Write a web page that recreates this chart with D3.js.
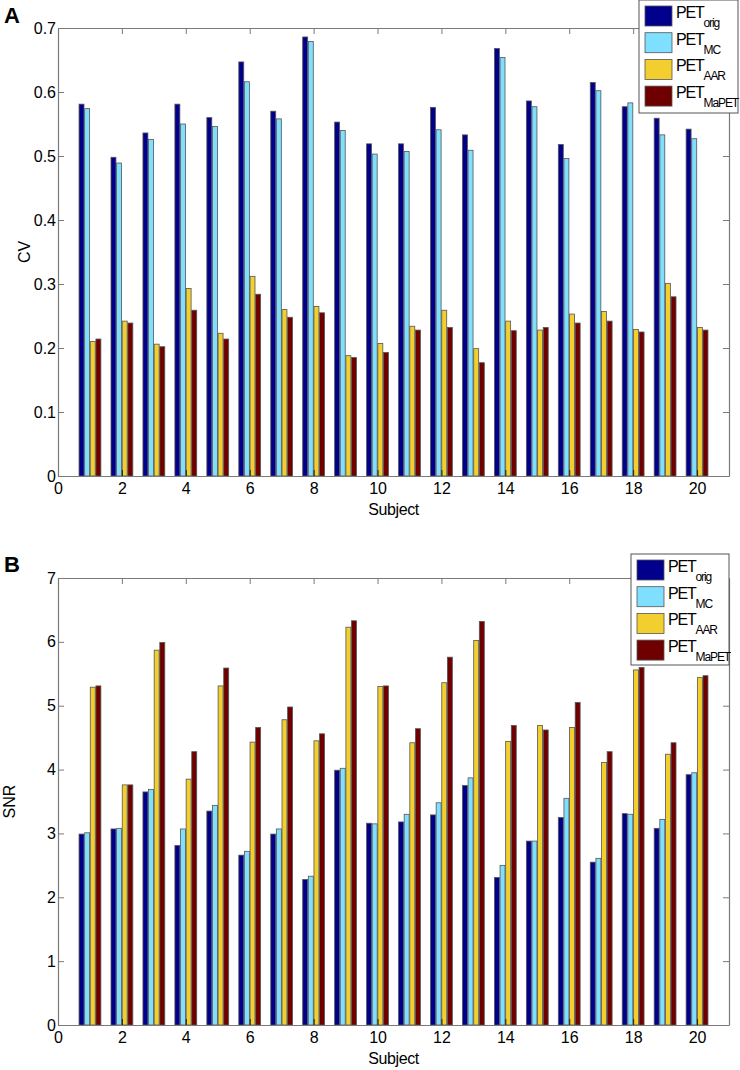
<!DOCTYPE html>
<html>
<head>
<meta charset="utf-8">
<script src="https://cdn.jsdelivr.net/npm/d3@7"></script>
<style>
  html, body { margin: 0; padding: 0; background: #fff; }
  svg { display: block; font-family: "Liberation Sans", Arial, sans-serif; }
</style>
</head>
<body>
<svg id="chart" width="740" height="1070"></svg>
<script>
// ---------------- DATA ----------------
const subjects = [1,2,3,4,5,6,7,8,9,10,11,12,13,14,15,16,17,18,19,20];
const seriesNames = ["orig", "MC", "AAR", "MaPET"];
const seriesColors = ["#00008c", "#7fdfff", "#f2cf2f", "#6e0000"];

const cvOrig  = [0.581,0.498,0.536,0.581,0.560,0.647,0.570,0.686,0.553,0.519,0.519,0.576,0.533,0.668,0.586,0.518,0.615,0.577,0.559,0.542];
const cvMC    = [0.574,0.489,0.526,0.550,0.546,0.616,0.558,0.679,0.540,0.503,0.507,0.541,0.509,0.654,0.577,0.496,0.602,0.583,0.533,0.527];
const cvAAR   = [0.210,0.242,0.206,0.293,0.223,0.312,0.260,0.265,0.188,0.207,0.234,0.259,0.199,0.242,0.228,0.253,0.257,0.229,0.301,0.232];
const cvMaPET = [0.214,0.239,0.202,0.259,0.214,0.284,0.248,0.255,0.185,0.193,0.228,0.232,0.177,0.227,0.232,0.239,0.242,0.225,0.280,0.228];

const snrOrig  = [2.99,3.07,3.65,2.81,3.35,2.66,2.99,2.28,3.99,3.16,3.18,3.29,3.75,2.31,2.88,3.25,2.55,3.31,3.08,3.92];
const snrMC    = [3.01,3.08,3.69,3.07,3.44,2.72,3.07,2.33,4.02,3.15,3.30,3.48,3.87,2.50,2.88,3.55,2.61,3.30,3.22,3.95];
const snrAAR   = [5.29,3.76,5.87,3.85,5.31,4.43,4.78,4.45,6.23,5.30,4.42,5.36,6.02,4.44,4.69,4.66,4.11,5.56,4.24,5.44];
const snrMaPET = [5.31,3.76,5.99,4.28,5.59,4.66,4.98,4.56,6.33,5.31,4.64,5.76,6.32,4.69,4.62,5.05,4.28,5.60,4.42,5.47];

const xTicks   = [0,2,4,6,8,10,12,14,16,18,20];
const cvTicks  = [0,0.1,0.2,0.3,0.4,0.5,0.6,0.7];
const snrTicks = [0,1,2,3,4,5,6,7];

// ---------------- DRAW ----------------
const svg = d3.select("#chart");
const axisGrey = "#7a7a7a";
const FS = 16;

function panel(opts) {
  const {top, bottom, left, right, yMax, yTicks, yFmt, values, yLabel, yLabelX, letter, letterY, legend} = opts;
  const x = d3.scaleLinear().domain([0, 21]).range([left, right]);
  const y = d3.scaleLinear().domain([0, yMax]).range([bottom, top]);
  const g = svg.append("g");

  // bars
  const slot = 0.176, bw = 0.155;
  values.forEach((vals, si) => {
    g.selectAll(null).data(subjects).enter().append("rect")
      .attr("x", (d) => x(d + (si - 1.5) * slot - bw / 2))
      .attr("width", x(bw) - x(0))
      .attr("y", (d, i) => y(vals[i]))
      .attr("height", (d, i) => y(0) - y(vals[i]))
      .attr("fill", seriesColors[si])
      .attr("stroke", "#555")
      .attr("stroke-width", 0.8);
  });

  const tl = 6;
  const xb = g.append("g").attr("transform", `translate(0,${bottom})`)
    .call(d3.axisBottom(x).tickValues(xTicks).tickSizeInner(-tl).tickSizeOuter(0).tickPadding(7).tickFormat(d3.format("d")));
  const xt = g.append("g").attr("transform", `translate(0,${top})`)
    .call(d3.axisTop(x).tickValues(xTicks).tickSizeInner(-tl).tickSizeOuter(0).tickFormat(""));
  const yl = g.append("g").attr("transform", `translate(${left},0)`)
    .call(d3.axisLeft(y).tickValues(yTicks).tickSizeInner(-tl).tickSizeOuter(0).tickPadding(2).tickFormat(yFmt));
  const yr = g.append("g").attr("transform", `translate(${right},0)`)
    .call(d3.axisRight(y).tickValues(yTicks).tickSizeInner(-tl).tickSizeOuter(0).tickFormat(""));

  [xb, xt, yl, yr].forEach(a => {
    a.select(".domain").attr("stroke", axisGrey).attr("stroke-width", 1.2);
    a.selectAll(".tick line").attr("stroke", axisGrey).attr("stroke-width", 1);
    a.selectAll("text").attr("fill", "#000").attr("font-size", FS)
      .attr("font-family", "'Liberation Sans', Arial, sans-serif");
  });
  xb.selectAll(".tick line").attr("stroke", "#222");

  g.append("text").attr("x", (left + right) / 2).attr("y", bottom + 38.5)
    .attr("text-anchor", "middle").attr("font-size", FS).attr("letter-spacing", -0.4).text("Subject");
  g.append("text").attr("transform", `translate(${yLabelX},${(top + bottom) / 2}) rotate(-90)`)
    .attr("text-anchor", "middle").attr("font-size", FS).text(yLabel);
  g.append("text").attr("x", 4).attr("y", letterY).attr("font-size", 22)
    .attr("font-weight", "bold").text(letter);

  // legend
  const lg = g.append("g");
  lg.append("rect").attr("x", legend.x).attr("y", legend.y).attr("width", legend.w).attr("height", legend.h)
    .attr("fill", "#fff").attr("stroke", "#555").attr("stroke-width", 1);
  seriesNames.forEach((nm, i) => {
    const ry = legend.y + 6 + i * 26.7;
    lg.append("rect").attr("x", legend.x + 6).attr("y", ry).attr("width", 27).attr("height", 20)
      .attr("fill", seriesColors[i]).attr("stroke", "#555").attr("stroke-width", 0.8);
    const t = lg.append("text").attr("x", legend.x + 37).attr("y", ry + 12).attr("font-size", 16);
    t.append("tspan").attr("letter-spacing", -1.2).text("PET");
    t.append("tspan").attr("dy", 9).attr("font-size", 12).attr("letter-spacing", -1.1).text(nm);
  });
}

panel({
  top: 28, bottom: 476, left: 58, right: 729, yMax: 0.7, yTicks: cvTicks,
  yFmt: d => d === 0 ? "0" : d3.format(".1f")(d),
  values: [cvOrig, cvMC, cvAAR, cvMaPET], yLabel: "CV", yLabelX: 30,
  letter: "A", letterY: 23, legend: {x: 639, y: 0, w: 99, h: 113}
});

panel({
  top: 578, bottom: 1025, left: 58, right: 729, yMax: 7, yTicks: snrTicks,
  yFmt: d3.format("d"),
  values: [snrOrig, snrMC, snrAAR, snrMaPET], yLabel: "SNR", yLabelX: 15,
  letter: "B", letterY: 572, legend: {x: 631, y: 554, w: 98, h: 111}
});
</script>
</body>
</html>
